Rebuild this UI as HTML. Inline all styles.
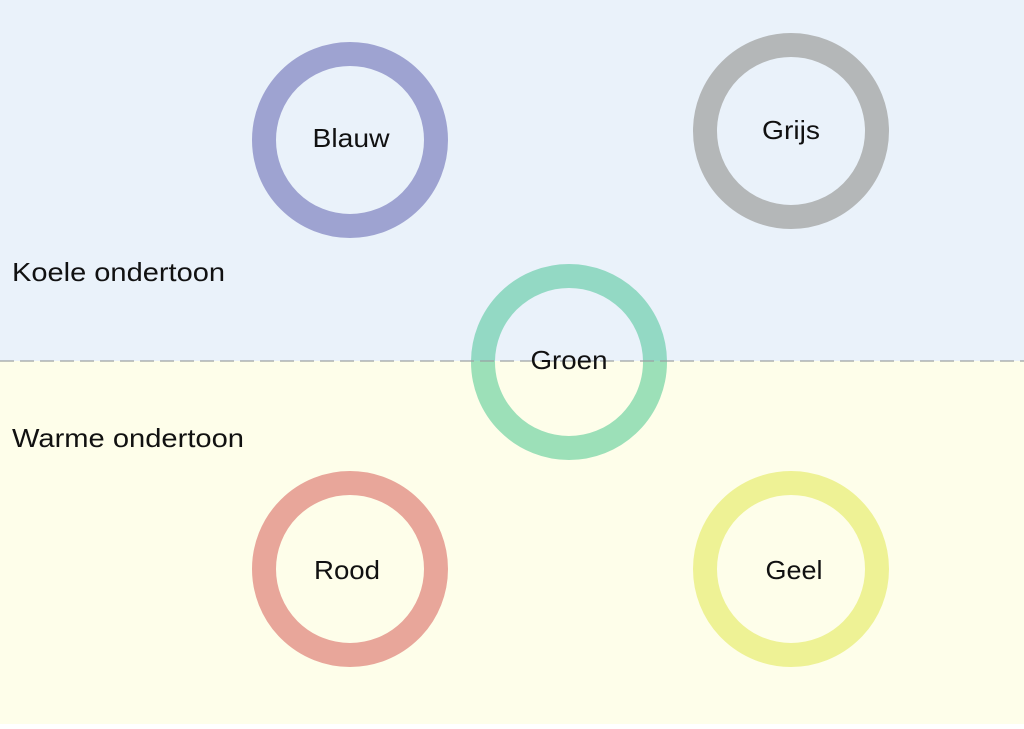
<!DOCTYPE html>
<html><head><style>
body{margin:0;width:1024px;height:724px;overflow:hidden;background:#fff}
</style></head><body>
<svg width="1024" height="724" xmlns="http://www.w3.org/2000/svg" font-family="Liberation Sans, sans-serif">
<rect x="0" y="0" width="1024" height="361" fill="#eaf2fa"/>
<rect x="0" y="361" width="1024" height="363" fill="#fefeea"/>
<g fill="none" stroke-width="24">
<circle cx="350" cy="140" r="86" stroke="#9ea3d1"/>
<circle cx="791" cy="131" r="86" stroke="#b4b7b8"/>
<circle cx="350" cy="569" r="86" stroke="#e8a69a"/>
<circle cx="791" cy="569" r="86" stroke="#eef295"/>
</g>
<clipPath id="top"><rect x="0" y="0" width="1024" height="361"/></clipPath>
<clipPath id="bot"><rect x="0" y="361" width="1024" height="363"/></clipPath>
<circle cx="569" cy="362" r="86" fill="none" stroke-width="24" stroke="#93d9c4" clip-path="url(#top)"/>
<circle cx="569" cy="362" r="86" fill="none" stroke-width="24" stroke="#9ce0b8" clip-path="url(#bot)"/>
<line x1="0" y1="361" x2="1024" y2="361" stroke="#9aa0a2" stroke-width="1.5" stroke-dasharray="14,6" opacity="0.8"/>
<g font-size="26" fill="#111" text-anchor="middle">
<text x="351" y="147" textLength="77" lengthAdjust="spacingAndGlyphs">Blauw</text>
<text x="791" y="139" textLength="58" lengthAdjust="spacingAndGlyphs">Grijs</text>
<text x="569" y="369" textLength="77" lengthAdjust="spacingAndGlyphs">Groen</text>
<text x="347" y="579" textLength="66" lengthAdjust="spacingAndGlyphs">Rood</text>
<text x="794" y="579" textLength="57" lengthAdjust="spacingAndGlyphs">Geel</text>
</g>
<g font-size="26" fill="#111">
<text x="12" y="281" textLength="213" lengthAdjust="spacingAndGlyphs">Koele ondertoon</text>
<text x="12" y="447" textLength="232" lengthAdjust="spacingAndGlyphs">Warme ondertoon</text>
</g>
</svg>
</body></html>
